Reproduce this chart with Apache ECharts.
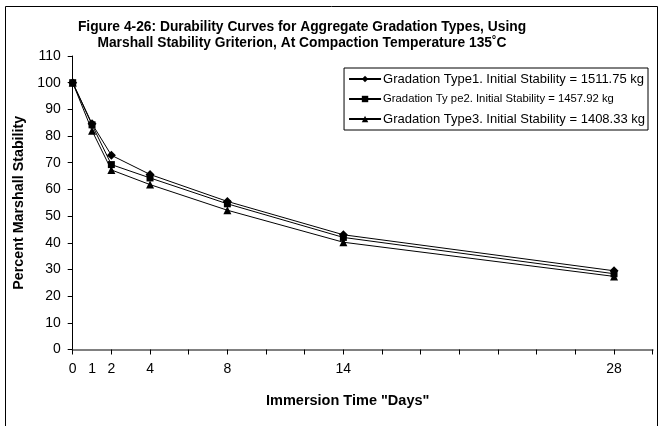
<!DOCTYPE html>
<html>
<head>
<meta charset="utf-8">
<script src="https://cdn.jsdelivr.net/npm/echarts@6/dist/echarts.min.js"></script>
<style>
  html, body { margin: 0; padding: 0; background: #fff; }
  #chart { width: 660px; height: 426px; }
</style>
</head>
<body>
<div id="chart"></div>
<script>
// Immersion time in days and percent of initial Marshall stability retained
const days = [0, 1, 2, 4, 8, 14, 28];
const type1 = [100, 84.6, 72.8, 65.6, 55.5, 43.0, 29.5];
const type2 = [100, 84.2, 69.3, 64.3, 54.6, 42.0, 28.4];
const type3 = [100, 82.0, 67.3, 61.8, 52.2, 40.2, 27.4];

const seriesNames = [
  'Gradation Type1. Initial Stability = 1511.75 kg',
  'Gradation Ty pe2. Initial Stability = 1457.92 kg',
  'Gradation Type3. Initial Stability = 1408.33 kg'
];
const xLabelValues = [0, 1, 2, 4, 8, 14, 28];
const xTickValues = [0, 2, 4, 6, 8, 10, 12, 14, 16, 18, 20, 22, 24, 26, 28, 30];

const FONT = 'Arial, "Liberation Sans", sans-serif';
const pairs = vals => days.map((d, i) => [d, vals[i]]);

const mkSeries = (name, vals, symbol, size) => ({
  name: name,
  type: 'line',
  data: pairs(vals),
  symbol: symbol,
  symbolSize: size,
  showAllSymbol: true,
  itemStyle: { color: '#000' },
  lineStyle: { color: '#000', width: 1 },
  emphasis: { disabled: true },
  animation: false
});

const chart = echarts.init(document.getElementById('chart'));
chart.setOption({
  animation: false,
  backgroundColor: '#fff',
  title: {
    text: 'Figure 4-26: Durability Curves for Aggregate Gradation Types, Using\nMarshall Stability Griterion, At Compaction Temperature 135˚C',
    left: 302,
    top: 19,
    textAlign: 'center',
    padding: 0,
    textStyle: { fontFamily: FONT, fontSize: 13.8, fontWeight: 'bold', color: '#000', lineHeight: 16 }
  },
  legend: {
    orient: 'vertical',
    right: 12,
    top: 68,
    padding: [4, 3, 4, 4],
    itemGap: 6,
    itemWidth: 32,
    itemHeight: 8,
    borderColor: '#000',
    borderWidth: 1,
    selectedMode: false,
    textStyle: { fontFamily: FONT, fontSize: 13, color: '#000', lineHeight: 14, padding: [0, 0, 0, -3] },
    data: [
      { name: seriesNames[0] },
      { name: seriesNames[1], textStyle: { fontSize: 11.3 } },
      { name: seriesNames[2] }
    ]
  },
  grid: { left: 72.7, right: 7.3, top: 56, bottom: 76.5 },
  xAxis: {
    type: 'value',
    min: 0,
    max: 30,
    interval: 2,
    name: 'Immersion Time "Days"',
    nameLocation: 'middle',
    nameGap: 44,
    nameTextStyle: { fontFamily: FONT, fontSize: 14.5, fontWeight: 'bold', color: '#000', padding: [0, 30, 0, 0] },
    axisLine: { lineStyle: { color: '#808080', width: 2 } },
    axisTick: { show: true, length: 5, lineStyle: { color: '#000', width: 1 }, customValues: xTickValues },
    axisLabel: { fontFamily: FONT, fontSize: 14, color: '#000', margin: 13, customValues: xLabelValues },
    splitLine: { show: false }
  },
  yAxis: {
    type: 'value',
    min: 0,
    max: 110,
    interval: 10,
    name: 'Percent Marshall Stability',
    nameLocation: 'middle',
    nameGap: 47,
    nameTextStyle: { fontFamily: FONT, fontSize: 14.3, fontWeight: 'bold', color: '#000' },
    axisLine: { show: true, lineStyle: { color: '#000', width: 1 } },
    axisTick: { show: true, length: 5, lineStyle: { color: '#000', width: 1 } },
    axisLabel: { fontFamily: FONT, fontSize: 14, color: '#000', margin: 12 },
    splitLine: { show: false }
  },
  graphic: [
    {
      type: 'rect',
      silent: true,
      shape: { x: 5.5, y: 6.5, width: 652, height: 430 },
      style: { fill: 'none', stroke: '#000', lineWidth: 1 }
    }
  ],
  series: [
    mkSeries(seriesNames[0], type1, 'diamond', 9),
    mkSeries(seriesNames[1], type2, 'rect', 7),
    mkSeries(seriesNames[2], type3, 'triangle', 8)
  ]
});
</script>
</body>
</html>
